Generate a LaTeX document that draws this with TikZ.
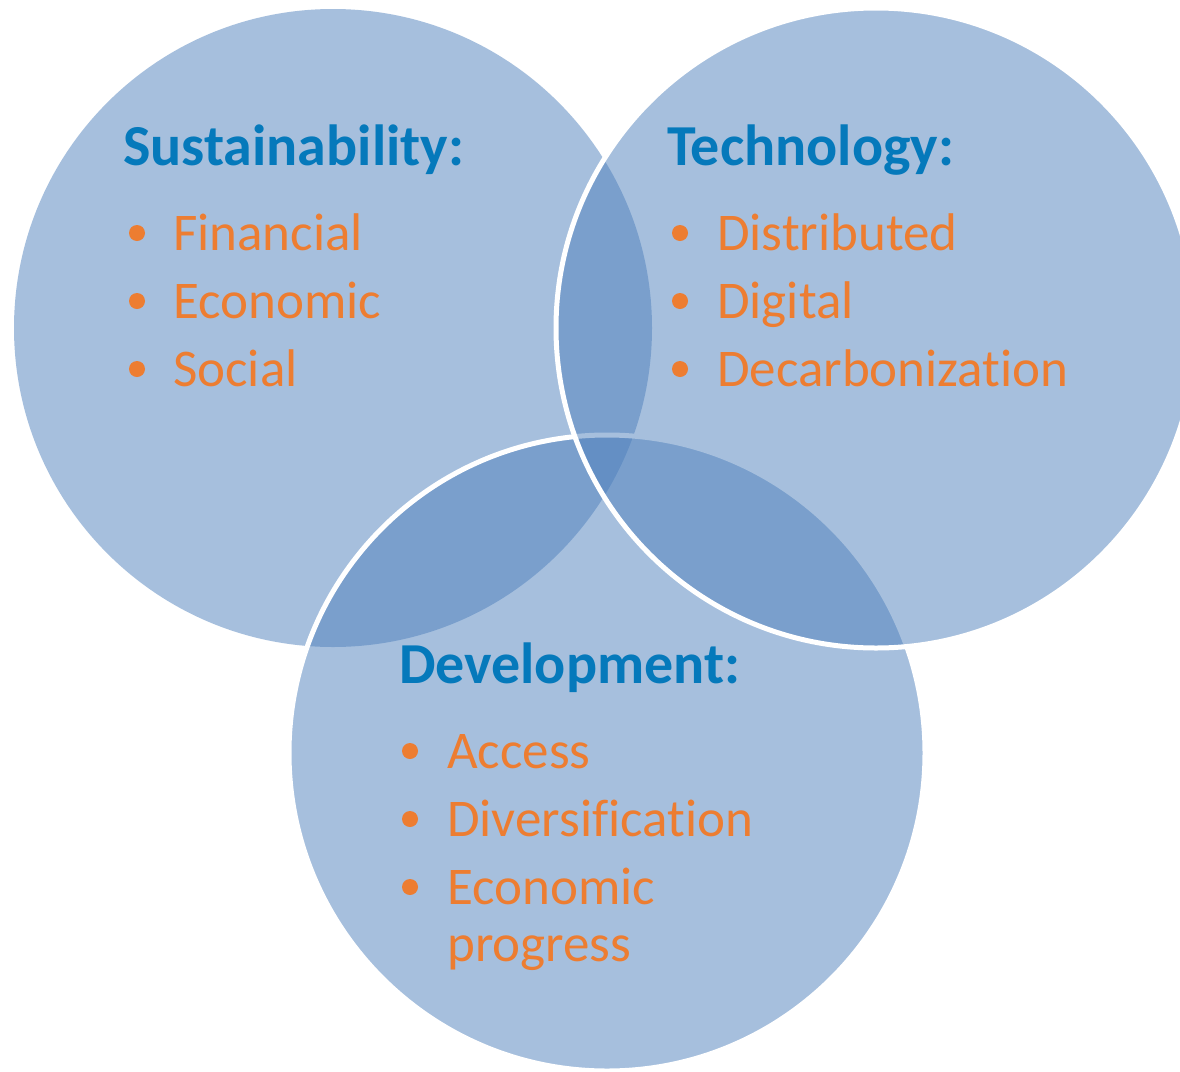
\documentclass[tikz,border=0pt]{standalone}
\usepackage{fontspec}
\setmainfont{Carlito}[Ligatures=NoCommon]
\usepackage{tikz}
\usetikzlibrary{positioning}

\definecolor{vennblue}{HTML}{4F81BD}
\definecolor{headblue}{HTML}{0579BB}
\definecolor{itemorange}{HTML}{ED7D31}

\begin{document}
\begin{tikzpicture}[x=1pt, y=-1pt,
                    venn/.style={fill=vennblue, fill opacity=0.5, draw=white, line width=5pt},
                    head/.style={anchor=base west, inner sep=0pt, text=headblue, font=\fontsize{58}{68}\selectfont\bfseries},
                    item/.style={anchor=base west, inner sep=0pt, text=itemorange, align=left, font=\fontsize{53}{57}\selectfont},
                    dot/.style={circle, fill=itemorange, inner sep=0pt, minimum size=16pt}]

  \useasboundingbox (0,0) rectangle (1180,1071);
  \fill[white] (0,0) rectangle (1180,1071);

  % the three sets
  \path[venn, draw=none] (333,328) circle[radius=319];
  \path[venn]            (607,753) circle[radius=318];
  \path[venn]            (876,328) circle[radius=320];

  \node[head] (sust) at (123,165) {Sustainability:};
  \node[dot]  (sust1d) at (137,233) {};
  \node[dot]  (sust2d) at (137,301) {};
  \node[dot]  (sust3d) at (137,369) {};
  \node[item] (sust1) at (173,250) {Financial};
  \node[item] (sust2) at (173,318) {Economic};
  \node[item] (sust3) at (173,386) {Social};

  \node[head] (tech) at (667,165) {Technology:};
  \node[dot]  (tech1d) at (680,233) {};
  \node[dot]  (tech2d) at (680,301) {};
  \node[dot]  (tech3d) at (680,369) {};
  \node[item] (tech1) at (717,250) {Distributed};
  \node[item] (tech2) at (717,318) {Digital};
  \node[item] (tech3) at (717,386) {Decarbonization};

  \node[head] (dev) at (399,683) {Development:};
  \node[dot]  (dev1d) at (410,751) {};
  \node[dot]  (dev2d) at (410,819) {};
  \node[dot]  (dev3d) at (410,887) {};
  \node[item] (dev1) at (447,768) {Access};
  \node[item] (dev2) at (447,836) {Diversification};
  % base of a two-line node is its last line
  \node[item] (dev3) at (447,961) {Economic\\progress};

\end{tikzpicture}
\end{document}
